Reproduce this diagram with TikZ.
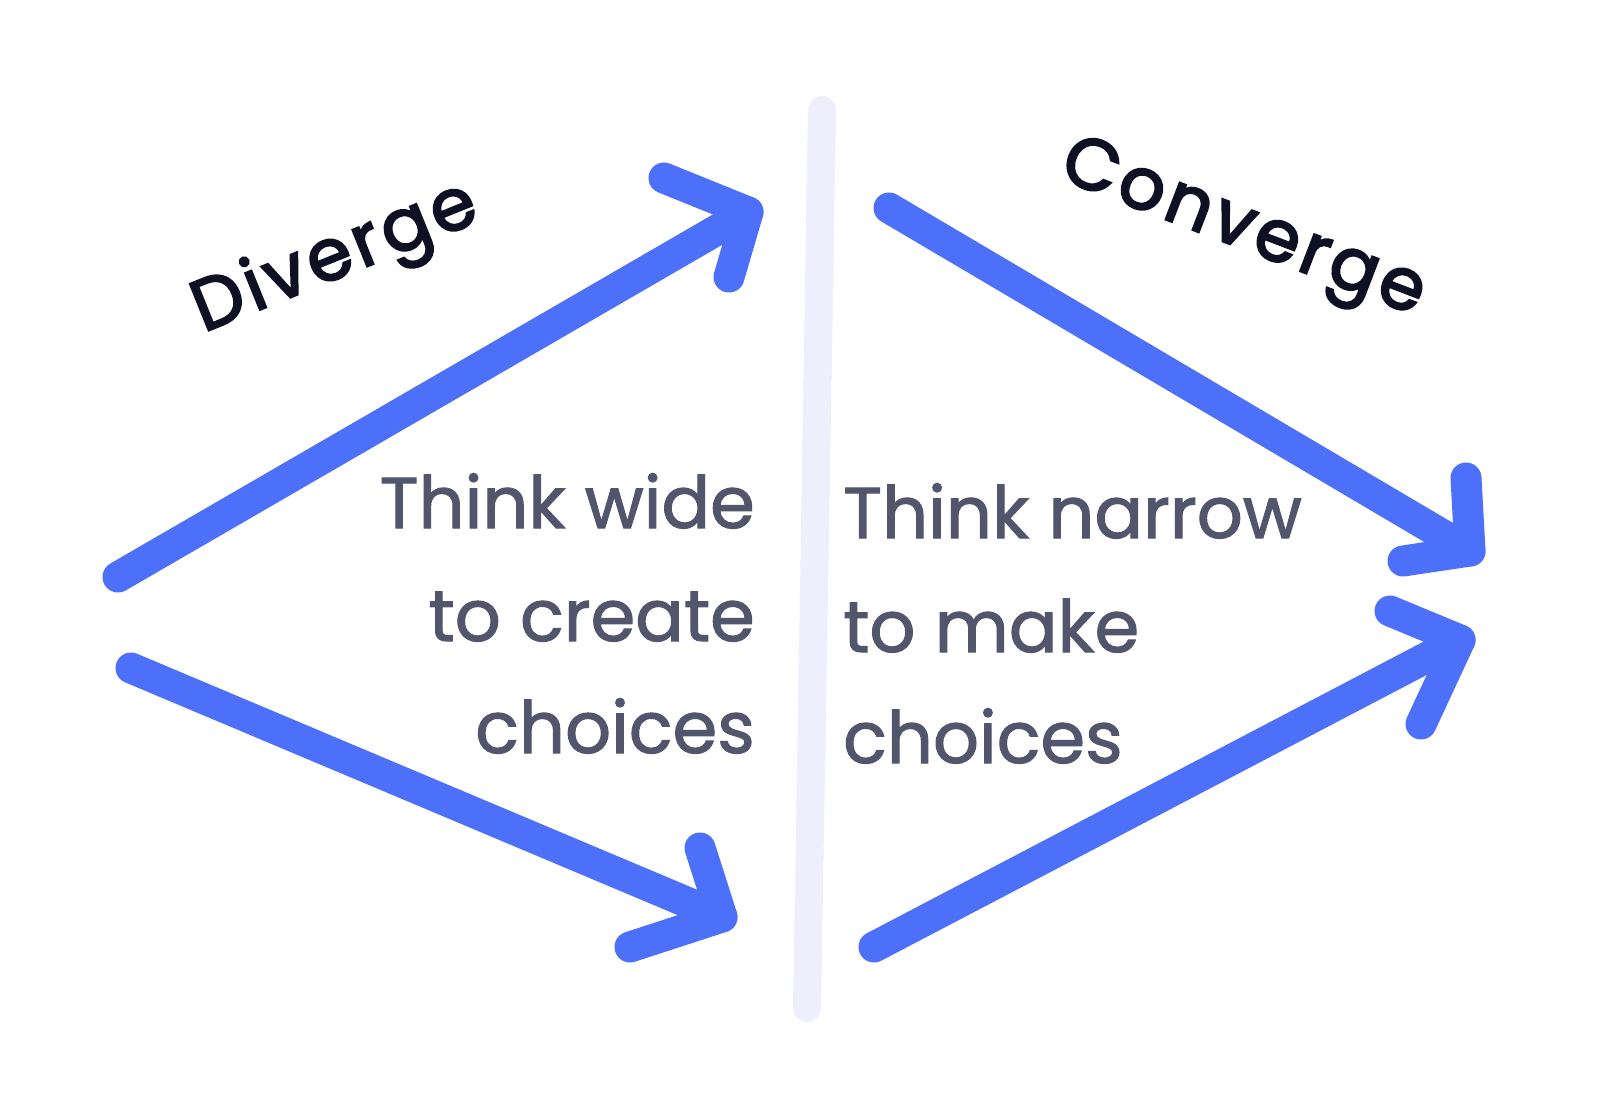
\documentclass[tikz,border=0pt]{standalone}
\usepackage{fontspec}
\setmainfont{Poppins}
\newfontfamily\bodyfont[FakeBold=1.5]{Poppins}
\newfontfamily\titlefont[FakeBold=3,LetterSpace=6]{Poppins}
\definecolor{arrowblue}{RGB}{76,112,250}
\definecolor{divider}{RGB}{238,238,253}
\definecolor{bodytext}{RGB}{82,86,108}
\definecolor{titletext}{RGB}{14,17,36}
\tikzset{
  flow/.style={draw=arrowblue, line width=31pt, line cap=round, line join=round},
  divline/.style={draw=divider, line width=28pt, line cap=round},
  body/.style={text=bodytext, font=\bodyfont\fontsize{72}{80}\selectfont, inner sep=0pt},
  title/.style={text=titletext, font=\titlefont\fontsize{72}{80}\selectfont, inner sep=0pt}
}
\begin{document}
\begin{tikzpicture}[x=1pt,y=-1pt]
\useasboundingbox[fill=white] (0,0) rectangle (1606,1110);
% divider
\coordinate (dtop) at (822,110);
\coordinate (dbot) at (807,1008);
\draw[divline] (dtop) -- (dbot);
% arrow 1: diverge up
\coordinate (a1s) at (118,577);
\coordinate (a1t) at (748,212);
\coordinate (a1w1) at (664,178);
\coordinate (a1w2) at (729,277);
\draw[flow] (a1s) -- (a1t);
\draw[flow] (a1w1) -- (a1t) -- (a1w2);
% arrow 2: diverge down
\coordinate (a2s) at (131,668);
\coordinate (a2t) at (722,917);
\coordinate (a2w1) at (700,848);
\coordinate (a2w2) at (630,947);
\draw[flow] (a2s) -- (a2t);
\draw[flow] (a2w1) -- (a2t) -- (a2w2);
% arrow 3: converge down
\coordinate (a3s) at (889,208);
\coordinate (a3t) at (1470,551);
\coordinate (a3w1) at (1466,478);
\coordinate (a3w2) at (1403,561);
\draw[flow] (a3s) -- (a3t);
\draw[flow] (a3w1) -- (a3t) -- (a3w2);
% arrow 4: converge up
\coordinate (a4s) at (874,947);
\coordinate (a4t) at (1460,640);
\coordinate (a4w1) at (1390,611);
\coordinate (a4w2) at (1421,724);
\draw[flow] (a4s) -- (a4t);
\draw[flow] (a4w1) -- (a4t) -- (a4w2);
% titles
\node[title, rotate=22] (diverge) at (336,260) {Diverge};
\node[title, rotate=-21] (converge) at (1242,232) {Converge};
% body text
\node[body, anchor=base east] (l1) at (755,528) {Think wide};
\node[body, anchor=base east] (l2) at (755,641) {to create};
\node[body, anchor=base east] (l3) at (755,753) {choices};
\node[body, anchor=base west] (r1) at (843,538) {Think narrow};
\node[body, anchor=base west] (r2) at (843,652) {to make};
\node[body, anchor=base west] (r3) at (843,763) {choices};
\end{tikzpicture}
\end{document}
